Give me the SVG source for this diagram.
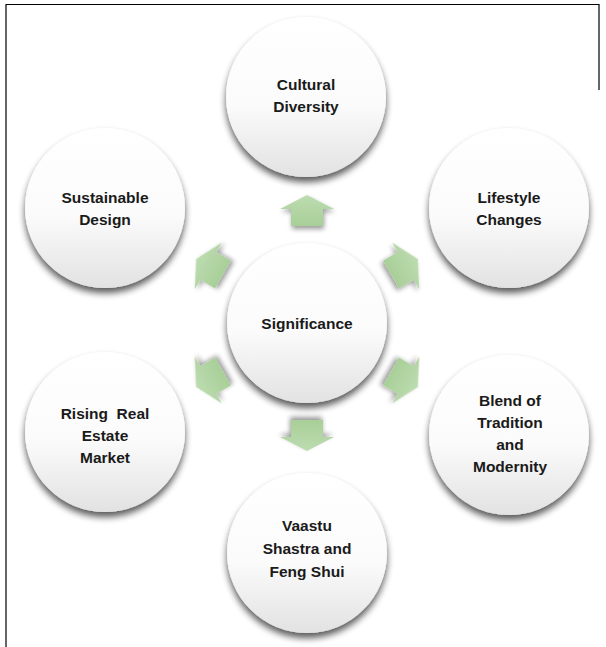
<svg xmlns="http://www.w3.org/2000/svg" width="606" height="647" viewBox="0 0 606 647">
  <defs>
    <linearGradient id="ballFill" x1="0" y1="0" x2="0" y2="1">
      <stop offset="0" stop-color="#ffffff"/>
      <stop offset="0.55" stop-color="#fbfbfb"/>
      <stop offset="1" stop-color="#e2e2e2"/>
    </linearGradient>
    <linearGradient id="arrowFill" x1="0" y1="0" x2="0" y2="1">
      <stop offset="0" stop-color="#bddcb0"/>
      <stop offset="1" stop-color="#a8cf98"/>
    </linearGradient>
    <filter id="ballShadow" x="-30%" y="-30%" width="160%" height="170%">
      <feGaussianBlur in="SourceAlpha" stdDeviation="3.5"/>
      <feOffset dy="5" result="b"/>
      <feComponentTransfer><feFuncA type="linear" slope="0.65"/></feComponentTransfer>
      <feMerge><feMergeNode/><feMergeNode in="SourceGraphic"/></feMerge>
    </filter>
    <filter id="arrowShadow" x="-50%" y="-50%" width="200%" height="200%">
      <feGaussianBlur in="SourceAlpha" stdDeviation="2.5"/>
      <feOffset dx="1" dy="3" result="b"/>
      <feComponentTransfer><feFuncA type="linear" slope="0.4"/></feComponentTransfer>
      <feMerge><feMergeNode/><feMergeNode in="SourceGraphic"/></feMerge>
    </filter>
    <!-- outward arrow, pointing up, centred on the origin -->
    <polygon id="arrowShape" points="0,-16 27,-2 16,-2 16,15 -16,15 -16,-2 -27,-2"/>
  </defs>
  <style>
    .ball { fill: url(#ballFill); filter: url(#ballShadow); }
    .arrow { fill: url(#arrowFill); filter: url(#arrowShadow); }
    .label { font-family: "Liberation Sans", Arial, sans-serif; font-weight: bold; font-size: 15.5px; fill: #1a1a1a; text-anchor: middle; white-space: pre; }
    .frame { stroke: #000; stroke-width: 1.2; fill: none; }
  </style>

  <rect width="606" height="647" fill="#ffffff"/>
  <path class="frame" d="M6,647 V4.5 H599 V90"/>

  <!-- arrows from the hub toward each topic -->
  <g id="connectors">
    <use href="#arrowShape" class="arrow" transform="translate(307,211)"/>
    <use href="#arrowShape" class="arrow" transform="translate(404,267) rotate(60)"/>
    <use href="#arrowShape" class="arrow" transform="translate(404,379) rotate(120)"/>
    <use href="#arrowShape" class="arrow" transform="translate(307,435) rotate(180)"/>
    <use href="#arrowShape" class="arrow" transform="translate(210,379) rotate(240)"/>
    <use href="#arrowShape" class="arrow" transform="translate(210,267) rotate(300)"/>
  </g>

  <g id="significance">
    <circle class="ball" cx="307" cy="323" r="80"/>
    <text class="label" x="307" y="329">Significance</text>
  </g>

  <g id="cultural-diversity">
    <circle class="ball" cx="306" cy="97" r="80"/>
    <text class="label" x="306" y="90">Cultural</text>
    <text class="label" x="306" y="112">Diversity</text>
  </g>

  <g id="lifestyle-changes">
    <circle class="ball" cx="509" cy="208" r="80"/>
    <text class="label" x="509" y="203">Lifestyle</text>
    <text class="label" x="509" y="225">Changes</text>
  </g>

  <g id="blend-tradition-modernity">
    <circle class="ball" cx="509" cy="435" r="80"/>
    <text class="label" x="510" y="406">Blend of</text>
    <text class="label" x="510" y="428">Tradition</text>
    <text class="label" x="510" y="450">and</text>
    <text class="label" x="510" y="472">Modernity</text>
  </g>

  <g id="vaastu-feng-shui">
    <circle class="ball" cx="307" cy="553" r="80"/>
    <text class="label" x="307" y="531">Vaastu</text>
    <text class="label" x="307" y="554">Shastra and</text>
    <text class="label" x="307" y="577">Feng Shui</text>
  </g>

  <g id="rising-real-estate">
    <circle class="ball" cx="105" cy="432" r="80"/>
    <text class="label" x="105" y="419">Rising  Real</text>
    <text class="label" x="105" y="441">Estate</text>
    <text class="label" x="105" y="463">Market</text>
  </g>

  <g id="sustainable-design">
    <circle class="ball" cx="105" cy="208" r="80"/>
    <text class="label" x="105" y="203">Sustainable</text>
    <text class="label" x="105" y="225">Design</text>
  </g>
</svg>
